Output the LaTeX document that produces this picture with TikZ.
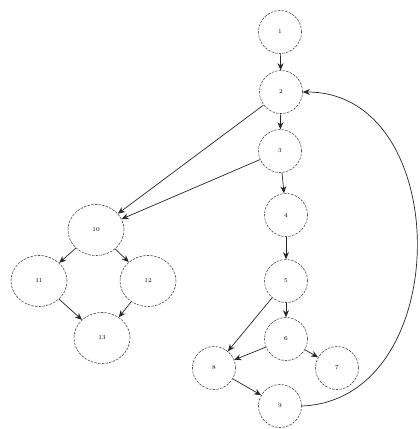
\documentclass[tikz,border=0pt]{standalone}
\usetikzlibrary{arrows.meta,shapes.geometric}
\begin{document}
\begin{tikzpicture}[x=1pt,y=-1pt,
  nd/.style={circle,draw=black!70,dash pattern=on 2.5pt off 1.2pt,line width=0.6pt,minimum size=43pt,inner sep=0pt,font=\fontsize{6}{7}\selectfont},
  bn/.style={ellipse,draw=black!70,dash pattern=on 2.5pt off 1.2pt,line width=0.6pt,minimum width=56pt,minimum height=51pt,inner sep=0pt,font=\fontsize{6}{7}\selectfont},
  ar/.style={-{Stealth[length=7pt,width=6pt]},line width=0.7pt,black!85}]
\useasboundingbox (0,0) rectangle (420,429);
\node[nd] (n1) at (280,32) {1};
\node[nd] (n2) at (281,92) {2};
\node[nd] (n3) at (280,151) {3};
\node[nd] (n4) at (286,215) {4};
\node[nd] (n5) at (286,281) {5};
\node[nd] (n6) at (286,339) {6};
\node[nd] (n7) at (337,368) {7};
\node[nd] (n8) at (214,368) {8};
\node[nd] (n9) at (280,406) {9};
\node[bn] (n10) at (96,230) {10};
\node[bn] (n11) at (39,281) {11};
\node[bn] (n12) at (148,281) {12};
\node[bn] (n13) at (102,338) {13};
\draw[ar] (n1) -- (n2);
\draw[ar] (n2) -- (n3);
\draw[ar] (n3) -- (n4);
\draw[ar] (n4) -- (n5);
\draw[ar] (n5) -- (n6);
\draw[ar] (n5) -- (n8);
\draw[ar] (n6) -- (n8);
\draw[ar] (n6) -- (n7);
\draw[ar] (n8) -- (n9);
\draw[ar] (n9.east) .. controls (455,400) and (455,92) .. (n2.east);
\draw[ar] (n2) -- (n10);
\draw[ar] (n3) -- (n10);
\draw[ar] (n10) -- (n11);
\draw[ar] (n10) -- (n12);
\draw[ar] (n11) -- (n13);
\draw[ar] (n12) -- (n13);
\end{tikzpicture}
\end{document}
